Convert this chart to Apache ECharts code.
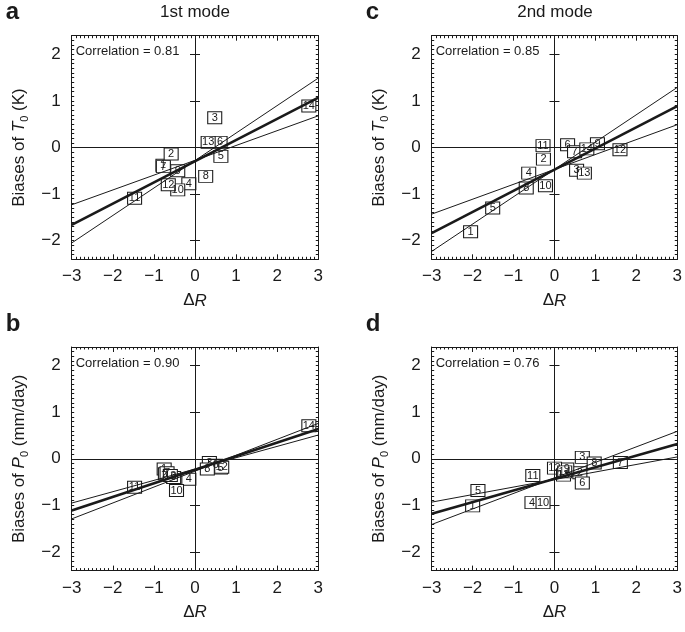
<!DOCTYPE html>
<html><head><meta charset="utf-8">
<script src="https://cdn.jsdelivr.net/npm/echarts@6/dist/echarts.min.js"></script>
<style>html,body{margin:0;padding:0;background:#fff}#c{width:685px;height:632px}</style>
</head><body><div id="c"></div>
<script>
// ---- data ----
const models = ['1','2','3','4','5','6','7','8','9','10','11','12','13','14'];
const xTicks = [-3,-2,-1,0,1,2,3];
const yTicks = [-2,-1,0,1,2];
const fitX = [-3, 3];

// panel a: 1st mode, T0
const aDR = [-0.78,-0.58,0.48,-0.15,0.63,0.61,-0.77,0.26,-0.42,-0.42,-1.47,-0.65,0.32,2.77];
const aBias = [-0.38,-0.14,0.64,-0.78,-0.19,0.11,-0.41,-0.62,-0.50,-0.91,-1.09,-0.80,0.11,0.89];
const aFit = [-1.66, 1.07];
const aShallow = [-1.23, 0.68];
const aSteep = [-2.05, 1.49];

// panel c: 2nd mode, T0
const cDR = [-2.05,-0.27,0.54,-0.63,-1.51,0.32,0.49,-0.69,1.05,-0.22,-0.28,1.60,0.73,0.79];
const cBias = [-1.81,-0.25,-0.49,-0.55,-1.30,0.06,-0.09,-0.87,0.08,-0.82,0.04,-0.05,-0.55,-0.03];
const cFit = [-1.84, 0.89];
const cShallow = [-1.43, 0.49];
const cSteep = [-2.23, 1.29];

// panel b: 1st mode, P0
const bDR = [-0.75,-0.72,0.35,-0.15,0.62,0.50,-0.68,0.30,-0.52,-0.45,-1.47,0.65,-0.60,2.77];
const bBias = [-0.22,-0.32,-0.08,-0.44,-0.20,-0.14,-0.30,-0.22,-0.40,-0.68,-0.61,-0.18,-0.36,0.71];
const bFit = [-1.11, 0.64];
const bShallow = [-0.95, 0.51];
const bSteep = [-1.29, 0.76];

// panel d: 2nd mode, P0
const dDR = [-2.00,0.62,0.68,-0.55,-1.87,0.68,1.61,0.97,0.30,-0.28,-0.53,0.00,0.22,0.25];
const dBias = [-1.01,-0.30,0.03,-0.94,-0.68,-0.52,-0.08,-0.09,-0.22,-0.94,-0.36,-0.20,-0.35,-0.28];
const dFit = [-1.18, 0.32];
const dShallow = [-0.93, 0.04];
const dSteep = [-1.41, 0.59];

const corrA = '0.81', corrC = '0.85', corrB = '0.90', corrD = '0.76';

// ---- build ----
const FONT = '"Liberation Sans", Arial, Helvetica, sans-serif';
const INK = '#1a1a1a';
const W = 246.6, H = 223.6;
const panels = [
  {letter:'a', title:'1st mode', x:aDR, y:aBias, fit:aFit, s1:aShallow, s2:aSteep, corr:corrA, v:'T', unit:' (K)', left:71.7, top:35.7},
  {letter:'c', title:'2nd mode', x:cDR, y:cBias, fit:cFit, s1:cShallow, s2:cSteep, corr:corrC, v:'T', unit:' (K)', left:431.7, top:35.7},
  {letter:'b', title:'', x:bDR, y:bBias, fit:bFit, s1:bShallow, s2:bSteep, corr:corrB, v:'P', unit:' (mm/day)', left:71.7, top:347},
  {letter:'d', title:'', x:dDR, y:dBias, fit:dFit, s1:dShallow, s2:dSteep, corr:corrD, v:'P', unit:' (mm/day)', left:431.7, top:347}
];
const fmt = v => { const r = Math.round(v); return r < 0 ? '\u2212' + (-r) : String(r); };
const grids = [], xAxes = [], yAxes = [], series = [], graphics = [];
const line = {show:true, onZero:false, lineStyle:{color:INK, width:1}};
panels.forEach((p, i) => {
  grids.push({left:p.left, top:p.top, width:W, height:H, containLabel:false});
  ['bottom','top'].forEach(pos => {
    xAxes.push({gridIndex:i, type:'value', position:pos, min:-3, max:3, interval:1,
      axisLine:line, splitLine:{show:false},
      axisTick:{show:true, inside:true, length:5, lineStyle:{color:INK}},
      minorTick:{show:true, splitNumber:10, length:2.5, lineStyle:{color:INK}},
      axisLabel:{show:pos==='bottom', formatter:fmt, fontFamily:FONT, fontSize:17, color:INK, margin:9},
      name: pos==='bottom' ? '{d|\u0394}{r|R}' : '', nameLocation:'middle', nameGap:33,
      nameTextStyle:{rich:{d:{fontFamily:FONT, fontSize:17, color:INK}, r:{fontFamily:FONT, fontSize:17, fontStyle:'italic', color:INK}}}
    });
  });
  ['left','right'].forEach(pos => {
    yAxes.push({gridIndex:i, type:'value', position:pos, min:-2.4, max:2.4, interval:0.1,
      axisLine:line, splitLine:{show:false},
      axisTick:{show:true, inside:true, length:2.5, lineStyle:{color:INK}},
      axisLabel:{show:pos==='left', customValues:yTicks, formatter:fmt, fontFamily:FONT, fontSize:17, color:INK, margin:11},
      name: pos==='left' ? '{a|Biases of }{i|' + p.v + '}{s|0}{a|' + p.unit + '}' : '',
      nameLocation:'middle', nameRotate:90, nameGap:41,
      nameTextStyle:{rich:{
        a:{fontFamily:FONT, fontSize:17, color:INK, lineHeight:22, verticalAlign:'middle'},
        i:{fontFamily:FONT, fontSize:17, fontStyle:'italic', color:INK, lineHeight:22, verticalAlign:'middle'},
        s:{fontFamily:FONT, fontSize:11, color:INK, lineHeight:22, verticalAlign:'bottom'}
      }}
    });
    yAxes.push({gridIndex:i, type:'value', position:pos, min:-2.4, max:2.4, interval:0.1,
      axisLine:{show:false}, splitLine:{show:false},
      axisTick:{show:true, inside:true, length:5, customValues:yTicks, lineStyle:{color:INK}},
      axisLabel:{show:false}
    });
  });
  const xi = 2*i, yi = 4*i;
  series.push({type:'scatter', xAxisIndex:xi, yAxisIndex:yi, z:3,
    data: p.x.map((v,k) => [v, p.y[k], models[k]]),
    symbol:'rect', symbolSize:[14,12],
    itemStyle:{color:'#fff', borderColor:INK, borderWidth:1, opacity:1},
    label:{show:true, position:'inside', formatter: q => q.data[2], fontFamily:FONT, fontSize:11, color:INK},
    markLine:{silent:true, symbol:'none', label:{show:false}, animation:false,
      lineStyle:{color:INK, width:1, type:'solid'},
      data:[{xAxis:0},{yAxis:0}]}
  });
  [[p.fit,2.6],[p.s1,1],[p.s2,1]].forEach(([arr,w]) => {
    series.push({type:'line', xAxisIndex:xi, yAxisIndex:yi, z:4, symbol:'none',
      data: fitX.map((x,k) => [x, arr[k]]), lineStyle:{color:INK, width:w}});
  });
  graphics.push({type:'text', left:p.left - 66, top:p.top - 35, style:{text:p.letter, font:'bold 24px ' + FONT, fill:INK}});
  if (p.title) graphics.push({type:'text', x:p.left + W/2, y:p.top - 23, style:{text:p.title, font:'17px ' + FONT, fill:INK, textAlign:'center', textVerticalAlign:'middle'}});
  graphics.push({type:'text', x:p.left + 4, y:p.top + 16, style:{text:'Correlation = ' + p.corr, font:'13px ' + FONT, fill:INK, textVerticalAlign:'middle'}, z:10});
});
const chart = echarts.init(document.getElementById('c'), null, {renderer:'canvas'});
chart.setOption({animation:false, grid:grids, xAxis:xAxes, yAxis:yAxes, series:series, graphic:graphics});
</script></body></html>
